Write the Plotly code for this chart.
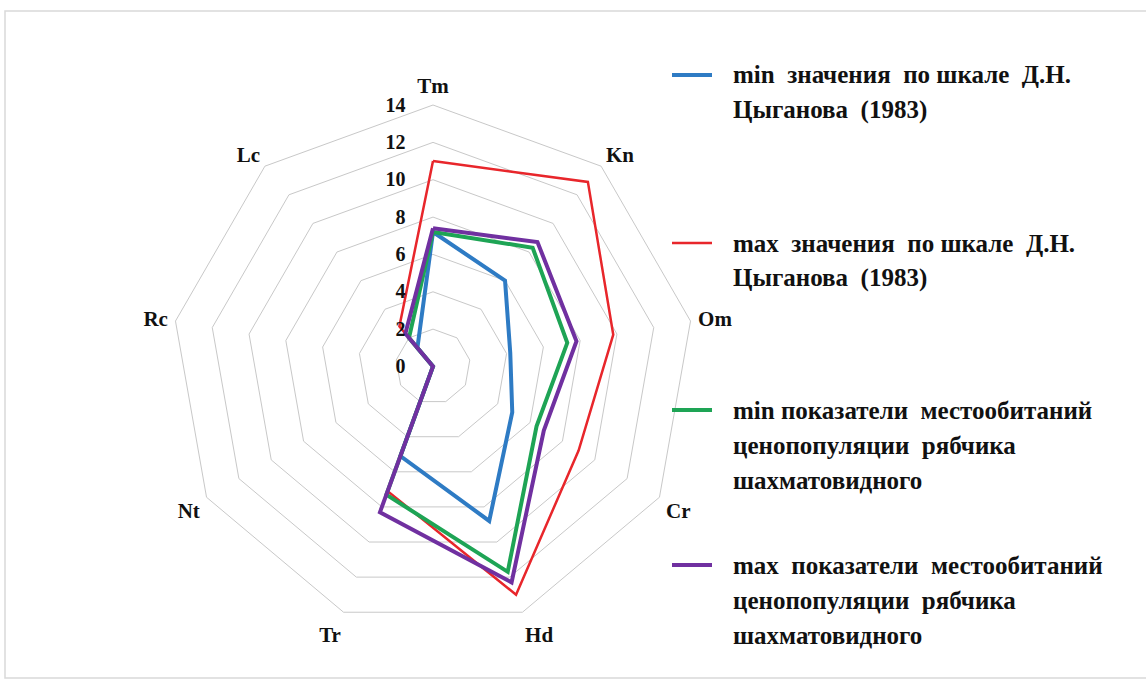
import plotly.graph_objects as go

# ---- data -------------------------------------------------------------
categories = ["Tm", "Kn", "Om", "Cr", "Hd", "Tr", "Nt", "Rc", "Lc"]
min_tsyganov = [7.2, 6.0, 4.2, 4.9, 8.8, 5.1, 0, 0, 1.3]
max_tsyganov = [11.0, 12.9, 9.8, 9.0, 13.0, 7.1, 0, 0, 2.8]
min_population = [7.2, 8.3, 7.3, 6.4, 11.7, 7.3, 0, 0, 2.0]
max_population = [7.4, 8.7, 7.8, 6.85, 12.3, 8.3, 0, 0, 2.3]
radial_ticks = [0, 2, 4, 6, 8, 10, 12, 14]

series_names = [
    ["min\u00a0 значения\u00a0 по шкале\u00a0 Д.Н.", "Цыганова\u00a0 (1983)"],
    ["max\u00a0 значения\u00a0 по шкале\u00a0 Д.Н.", "Цыганова\u00a0 (1983)"],
    ["min показатели\u00a0 местообитаний", "ценопопуляции\u00a0 рябчика", "шахматовидного"],
    ["max\u00a0 показатели\u00a0 местообитаний", "ценопопуляции\u00a0 рябчика", "шахматовидного"],
]
series_values = [min_tsyganov, max_tsyganov, min_population, max_population]
colors = ["#2E7BC4", "#E8262B", "#1EA455", "#7030A0"]
widths = [4, 2.5, 4, 4]

# ---- figure -----------------------------------------------------------
W, H = 1146, 683
FONT = "Liberation Serif"

fig = go.Figure()
for name, vals, col, w in zip(series_names, series_values, colors, widths):
    fig.add_trace(go.Scatterpolar(
        r=vals + vals[:1],
        theta=categories + categories[:1],
        mode="lines",
        line=dict(color=col, width=w),
        name=" ".join(name),
        showlegend=False,
        hoverinfo="skip",
    ))

cx, cy, R = 433, 366.5, 261.5
fig.update_layout(
    width=W, height=H,
    margin=dict(l=0, r=0, t=0, b=0),
    paper_bgcolor="white",
    plot_bgcolor="white",
    polar=dict(
        domain=dict(x=[(cx - R) / W, (cx + R) / W],
                    y=[(H - cy - R) / H, (H - cy + R) / H]),
        bgcolor="white",
        gridshape="linear",
        radialaxis=dict(
            range=[0, 14], tickvals=radial_ticks, ticktext=[str(t) for t in radial_ticks],
            angle=90, side="counterclockwise", tickangle=90,
            showline=False, gridcolor="#C8C8C8", gridwidth=1,
            ticks="outside", ticklen=20, tickcolor="rgba(0,0,0,0)",
            tickfont=dict(family=FONT, size=20, color="#111", weight="bold"),
        ),
        angularaxis=dict(
            direction="clockwise", rotation=90,
            showgrid=False, showline=True, linecolor="#C8C8C8", linewidth=1,
            ticks="outside", ticklen=3, tickcolor="rgba(0,0,0,0)",
            tickfont=dict(family=FONT, size=21, color="#111", weight="bold"),
        ),
    ),
)

# chart frame
fig.add_shape(type="rect", xref="paper", yref="paper",
              x0=5 / W, x1=1.01, y0=1 - 678 / H, y1=1 - 11 / H,
              line=dict(color="#D9D9D9", width=1.5), fillcolor="rgba(0,0,0,0)", layer="below")

# legend (manual, to match the wide line spacing of the original)
legend_first_y = [75, 243, 410, 565]
line_step = 35
for name, col, w, y0 in zip(series_names, colors, widths, legend_first_y):
    fig.add_shape(type="line", xref="paper", yref="paper",
                  x0=672 / W, x1=712 / W, y0=1 - y0 / H, y1=1 - y0 / H,
                  line=dict(color=col, width=w))
    for i, txt in enumerate(name):
        fig.add_annotation(xref="paper", yref="paper",
                           x=731 / W, y=1 - (y0 + i * line_step) / H,
                           xanchor="left", yanchor="middle", showarrow=False,
                           text=txt,
                           font=dict(family=FONT, size=25, color="#111", weight="bold"))

fig.write_html("out.html",
               config={"displayModeBar": False},
               post_script="document.body.style.margin='0';document.body.style.overflow='hidden';")
